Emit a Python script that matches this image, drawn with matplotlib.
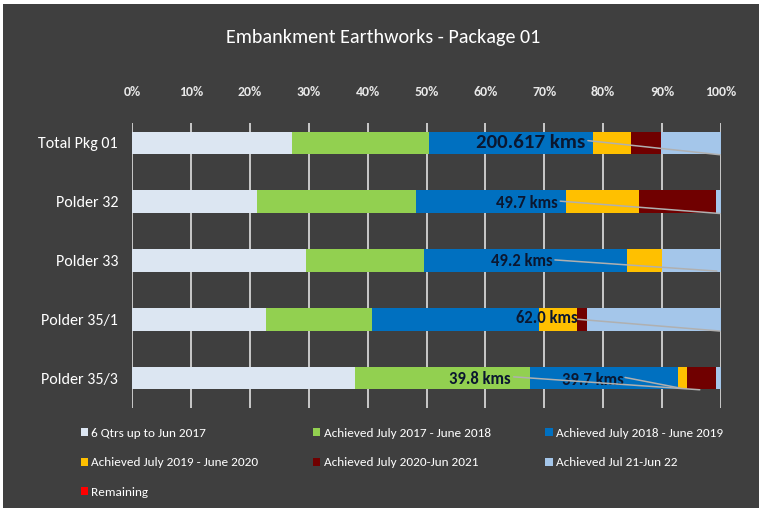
import numpy as np
import matplotlib
matplotlib.use("Agg")
import matplotlib.pyplot as plt
from matplotlib.patches import Patch, Rectangle

plt.rcParams["font.family"] = ["Carlito", "DejaVu Sans"]

# data (percent of each polder's embankment length)
rows = ["Total Pkg 01", "Polder 32", "Polder 33", "Polder 35/1", "Polder 35/3"]
series_names = ["6 Qtrs up to Jun 2017", "Achieved July 2017 - June 2018",
                "Achieved July 2018 - June 2019", "Achieved July 2019 - June 2020",
                "Achieved July 2020-Jun 2021", "Achieved Jul 21-Jun 22", "Remaining"]
qtrs_to_jun17 = [27.2, 21.3, 29.5, 22.7, 37.9]
jul17_jun18 = [23.2, 26.9, 20.0, 18.0, 29.7]
jul18_jun19 = [27.9, 25.5, 34.6, 28.4, 25.1]
jul19_jun20 = [6.5, 12.3, 5.8, 6.4, 1.5]
jul20_jun21 = [5.0, 13.2, 0.0, 1.8, 5.0]
jul21_jun22 = [10.2, 0.8, 10.1, 22.7, 0.8]
remaining = [0.0, 0.0, 0.0, 0.0, 0.0]

# data labels (text, row)
km_labels = ["200.617 kms", "49.7 kms", "49.2 kms", "62.0 kms", "39.8 kms", "39.7 kms"]
km_rows = [0, 1, 2, 3, 4, 4]

colors = ["#dce6f2", "#92d050", "#0070c0", "#ffc000", "#700000", "#a4c6ea", "#ff0000"]
bg = "#3f3f3f"

fig = plt.figure(figsize=(7.59, 5.08), dpi=100)
fig.patch.set_facecolor(bg)
ax = fig.add_axes([132 / 759, 1 - 408 / 508, 589 / 759, 285 / 508])
ax.set_facecolor(bg)

y = np.arange(len(rows))
left = np.zeros(len(rows))
data = [qtrs_to_jun17, jul17_jun18, jul18_jun19, jul19_jun20, jul20_jun21, jul21_jun22, remaining]
handles = []
for vals, c, name in zip(data, colors, series_names):
    ax.barh(y, vals, left=left, height=0.39, color=c, zorder=2)
    left += np.array(vals)
    handles.append(Patch(facecolor=c, label=name))

ax.set_xlim(0, 100)
ax.set_ylim(4.51, -0.34)
ax.set_xticks(np.arange(0, 101, 10))
ax.set_xticklabels([f"{v}%" for v in range(0, 101, 10)])
ax.xaxis.tick_top()
ax.tick_params(axis="x", length=0, pad=18, labelsize=10, labelcolor="#e8e8e8")
for t in ax.get_xticklabels():
    t.set_fontweight("bold")
ax.set_yticks(y)
ax.set_yticklabels(rows)
ax.tick_params(axis="y", length=0, pad=10, labelsize=11.5, labelcolor="white")
ax.grid(axis="x", color="#d4d4d4", lw=1.3, zorder=0)
ax.set_axisbelow(True)
for s in ax.spines.values():
    s.set_visible(False)

# km labels with leader lines (as placed on the original chart)
label_x = [67.6, 67.0, 66.2, 70.4, 59.1, 78.3]
label_dy = [0.0, 0.02, 0.01, -0.02, 0.02, 0.04]
lead_from = [(77.4, -0.04), (72.7, 0.99), (71.8, 1.99), (75.7, 3.0), (64.8, 3.98), (83.7, 3.99)]
lead_to = [(99.8, 0.2), (99.8, 1.2), (99.3, 2.18), (99.8, 3.2), (96.4, 4.2), (93.0, 4.17)]
for i, (txt, r) in enumerate(zip(km_labels, km_rows)):
    size = 15 if i == 0 else 12
    ax.text(label_x[i], r + label_dy[i], txt, ha="center", va="center",
            fontsize=size, fontweight="bold", color="#0b1730", zorder=4)
    ax.annotate("", xy=lead_to[i], xytext=lead_from[i],
                arrowprops=dict(arrowstyle="-", color="#b0b0b0", lw=1.1,
                                shrinkA=0, shrinkB=0), zorder=5)

fig.text(0.505, 1 - 38 / 508, "Embankment Earthworks - Package 01",
         ha="center", va="center", fontsize=14.5, color="white")

order = [0, 3, 6, 1, 4, 2, 5]
leg = fig.legend([handles[i] for i in order], [series_names[i] for i in order],
                 ncol=3, loc="upper left", bbox_to_anchor=(74 / 759, 1 - 421 / 508),
                 frameon=False, fontsize=9.5, labelcolor="white",
                 handlelength=0.55, handleheight=0.55, handletextpad=0.25,
                 columnspacing=4.15, labelspacing=1.42, borderpad=0)

# white margin strips at top and left of the picture
fig.add_artist(Rectangle((0, 1 - 4 / 508), 1, 4 / 508, transform=fig.transFigure,
                         facecolor="white", edgecolor="none"))
fig.add_artist(Rectangle((0, 0), 3 / 759, 1, transform=fig.transFigure,
                         facecolor="white", edgecolor="none"))

fig.savefig("out.png", dpi=100, facecolor=fig.get_facecolor())
